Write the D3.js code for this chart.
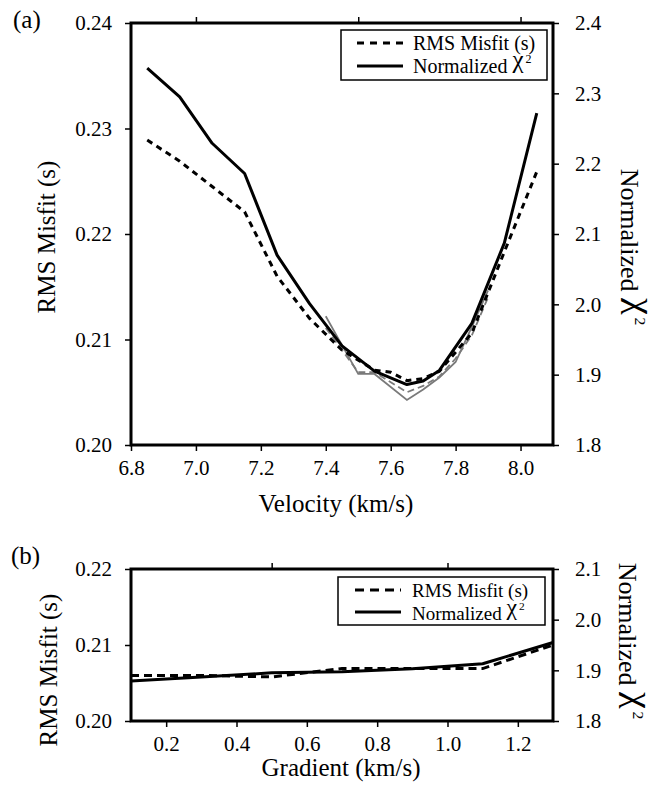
<!DOCTYPE html>
<html><head><meta charset="utf-8">
<script src="https://cdn.jsdelivr.net/npm/d3@7"></script>
<style>
body{margin:0;background:#fff}
</style>
</head><body>
<svg id="c" width="666" height="787"></svg>
<script>
// ---------- Data (panel a) ----------
const velocityChi = [6.85, 6.95, 7.05, 7.15, 7.25, 7.35, 7.45, 7.55, 7.65, 7.70, 7.75, 7.85, 7.95, 8.05];
const chiA        = [2.336, 2.295, 2.229, 2.186, 2.070, 2.001, 1.941, 1.905, 1.886, 1.891, 1.906, 1.973, 2.087, 2.272];
const velocityRms = [6.85, 6.95, 7.05, 7.15, 7.25, 7.35, 7.45, 7.55, 7.60, 7.65, 7.70, 7.75, 7.85, 7.95, 8.05];
const rmsA        = [0.2289, 0.2269, 0.2245, 0.2221, 0.2160, 0.2120, 0.2090, 0.2071, 0.2069, 0.2061, 0.2063, 0.2070, 0.2106, 0.2183, 0.2259];
// fine search (grey)
const velocityFineChi = [7.40, 7.45, 7.50, 7.55, 7.65, 7.70, 7.75, 7.80, 7.85, 7.90];
const chiFine         = [1.983, 1.942, 1.901, 1.901, 1.864, 1.879, 1.896, 1.918, 1.968, 2.020];
const velocityFineRms = [7.40, 7.45, 7.50, 7.55, 7.65, 7.70, 7.75, 7.80, 7.85, 7.90];
const rmsFine         = [0.2111, 0.2090, 0.2069, 0.2069, 0.2050, 0.2056, 0.2065, 0.2082, 0.2104, 0.2140];
// ---------- Data (panel b) ----------
const gradient = [0.1, 0.3, 0.5, 0.7, 0.9, 1.1, 1.3];
const rmsB     = [0.2060, 0.2060, 0.2058, 0.2069, 0.2069, 0.2069, 0.2100];
const chiB     = [1.879, 1.887, 1.895, 1.897, 1.903, 1.913, 1.955];
// ---------- Ticks ----------
const xTicksA = [6.8, 7.0, 7.2, 7.4, 7.6, 7.8, 8.0];
const xTopTicksA = [7.0, 7.5, 8.0];
const yLTicksA = [0.20, 0.21, 0.22, 0.23, 0.24];
const yRTicksA = [1.8, 1.9, 2.0, 2.1, 2.2, 2.3, 2.4];
const xTicksB = [0.2, 0.4, 0.6, 0.8, 1.0, 1.2];
const xTopTicksB = [0.5, 1.0];
const yLTicksB = [0.20, 0.21, 0.22];
const yRTicksB = [1.8, 1.9, 2.0, 2.1];
const legendLabels = ["RMS Misfit (s)", "Normalized "];

const FONT = '"Liberation Serif"';
const svg = d3.select("#c");

function chiText(sel, base, prefix, k) {
  k = k || 1.25;
  sel.append("tspan").text(prefix);
  sel.append("tspan").text("χ").style("font-size", (base*k)+"px").attr("dy", -0.27*base*k/1.25);
  sel.append("tspan").text("2").style("font-size", (base*0.6)+"px").attr("dy", -0.24*base).attr("dx", 0.1*base);
}

function styleAxis(g, fs) {
  g.attr("font-family", null).attr("font-size", null);
  g.select(".domain").remove();
  g.selectAll(".tick line").attr("stroke", "#000").attr("stroke-width", 1.5);
  g.selectAll(".tick text").style("font-size", fs + "px").attr("fill", "#000");
}

function panel(c) {
  const x = d3.scaleLinear().domain(c.xDomain).range([c.x0, c.x1]);
  const yL = d3.scaleLinear().domain(c.yLDomain).range([c.y1, c.y0]);
  const yR = d3.scaleLinear().domain(c.yRDomain).range([c.y1, c.y0]);
  const g = svg.append("g");

  g.append("g").attr("transform", `translate(0,${c.y1})`)
    .call(d3.axisBottom(x).tickValues(c.xTicks).tickFormat(d3.format(".1f")).tickSizeOuter(0).tickSize(6).tickPadding(9))
    .call(s => styleAxis(s, 21));
  g.append("g").attr("transform", `translate(0,${c.y0})`)
    .call(d3.axisTop(x).tickValues(c.xTopTicks).tickFormat("").tickSizeOuter(0).tickSize(6))
    .call(s => styleAxis(s, 21));
  g.append("g").attr("transform", `translate(${c.x0},0)`)
    .call(d3.axisLeft(yL).tickValues(c.yLTicks).tickFormat(d3.format(".2f")).tickSizeOuter(0).tickSize(6).tickPadding(13))
    .call(s => styleAxis(s, 21));
  g.append("g").attr("transform", `translate(${c.x1},0)`)
    .call(d3.axisRight(yR).tickValues(c.yRTicks).tickFormat(d3.format(".1f")).tickSizeOuter(0).tickSize(6).tickPadding(16))
    .call(s => styleAxis(s, 21));

  const lineL = (xs, ys) => d3.line().x((d, i) => x(xs[i])).y(d => yL(d))(ys);
  const lineR = (xs, ys) => d3.line().x((d, i) => x(xs[i])).y(d => yR(d))(ys);

  (c.grey || []).forEach(s => {
    g.append("path").attr("d", s.axis === "L" ? lineL(s.x, s.y) : lineR(s.x, s.y))
      .attr("fill", "none").attr("stroke", "#7a7a7a").attr("stroke-width", 1.8)
      .attr("stroke-dasharray", s.dash || null);
  });
  g.append("path").attr("d", lineL(c.rmsX, c.rms)).attr("fill", "none")
    .attr("stroke", "#000").attr("stroke-width", 3).attr("stroke-dasharray", c.dash);
  g.append("path").attr("d", lineR(c.chiX, c.chi)).attr("fill", "none")
    .attr("stroke", "#000").attr("stroke-width", 3).attr("stroke-linejoin", "round");

  g.append("rect").attr("x", c.x0).attr("y", c.y0).attr("width", c.x1 - c.x0).attr("height", c.y1 - c.y0)
    .attr("fill", "none").attr("stroke", "#000").attr("stroke-width", 3);

  const L = c.legend;
  const lg = g.append("g");
  lg.append("rect").attr("x", L.x).attr("y", L.y).attr("width", L.w).attr("height", L.h)
    .attr("fill", "#fff").attr("stroke", "#000").attr("stroke-width", 1.5);
  lg.append("line").attr("x1", L.lx0).attr("x2", L.lx1).attr("y1", L.ly[0]).attr("y2", L.ly[0])
    .attr("stroke", "#000").attr("stroke-width", 3).attr("stroke-dasharray", L.dash);
  lg.append("line").attr("x1", L.lx0).attr("x2", L.lx1).attr("y1", L.ly[1]).attr("y2", L.ly[1])
    .attr("stroke", "#000").attr("stroke-width", 3);
  lg.append("text").attr("x", L.tx).attr("y", L.ty[0]).style("font-size", L.fs + "px").text(legendLabels[0]);
  lg.append("text").attr("x", L.tx).attr("y", L.ty[1]).style("font-size", L.fs + "px").call(s => chiText(s, L.fs, legendLabels[1]));

  g.append("text").attr("x", c.xTitle[0]).attr("y", c.xTitle[1]).attr("text-anchor", "middle")
    .style("font-size", "25px").text(c.xLabel);
  g.append("text").attr("transform", `translate(${c.yLTitle[0]},${c.yLTitle[1]}) rotate(-90)`)
    .attr("text-anchor", "middle").style("font-size", "25px").text("RMS Misfit (s)");
  g.append("text").attr("transform", `translate(${c.yRTitle[0]},${c.yRTitle[1]}) rotate(90)`)
    .attr("text-anchor", "middle").style("font-size", "26px").call(s => chiText(s, 26, "Normalized ", 1.45));
  g.append("text").attr("x", c.tag[0]).attr("y", c.tag[1]).style("font-size", "25px").text(c.tagText);
}

panel({
  x0: 131, x1: 553, y0: 23, y1: 445,
  xDomain: [6.8, 8.1], yLDomain: [0.20, 0.24], yRDomain: [1.8, 2.4],
  xTicks: xTicksA, xTopTicks: xTopTicksA, yLTicks: yLTicksA, yRTicks: yRTicksA,
  rmsX: velocityRms, rms: rmsA, chiX: velocityChi, chi: chiA, dash: "6,5",
  grey: [
    {axis: "R", x: velocityFineChi, y: chiFine},
    {axis: "L", x: velocityFineRms, y: rmsFine, dash: "7,4"}
  ],
  legend: {x: 341, y: 30, w: 206, h: 50, lx0: 357, lx1: 403, ly: [43, 66], tx: 413, ty: [50, 73], fs: 20, dash: "7,6"},
  xLabel: "Velocity (km/s)", xTitle: [336, 512],
  yLTitle: [55, 237], yRTitle: [621, 247],
  tag: [13, 28], tagText: "(a)"
});

panel({
  x0: 131, x1: 553, y0: 569, y1: 721,
  xDomain: [0.1, 1.3], yLDomain: [0.20, 0.22], yRDomain: [1.8, 2.1],
  xTicks: xTicksB, xTopTicks: xTopTicksB, yLTicks: yLTicksB, yRTicks: yRTicksB,
  rmsX: gradient, rms: rmsB, chiX: gradient, chi: chiB, dash: "8,5",
  legend: {x: 338, y: 577, w: 207, h: 48, lx0: 355, lx1: 401, ly: [590, 612], tx: 412, ty: [597, 620], fs: 19, dash: "9,6"},
  xLabel: "Gradient (km/s)", xTitle: [341, 776],
  yLTitle: [57, 670], yRTitle: [619, 641],
  tag: [11, 564], tagText: "(b)"
});

svg.selectAll("text").style("font-family", FONT).style("fill", "#000");
</script>
</body></html>
